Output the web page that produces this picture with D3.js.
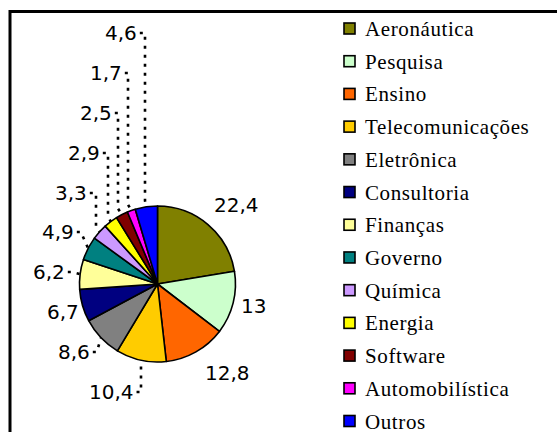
<!DOCTYPE html>
<html>
<head>
<meta charset="utf-8">
<script src="https://cdn.jsdelivr.net/npm/d3@7"></script>
<style>
  html, body { margin: 0; padding: 0; background: #fff; }
  svg { display: block; }
</style>
</head>
<body>
<svg id="chart" width="557" height="432"></svg>
<script>
// ---- Data ----
const categories = ["Aeronáutica", "Pesquisa", "Ensino", "Telecomunicações", "Eletrônica",
  "Consultoria", "Finanças", "Governo", "Química", "Energia", "Software",
  "Automobilística", "Outros"];
const values = [22.4, 13, 12.8, 10.4, 8.6, 6.7, 6.2, 4.9, 3.3, 2.9, 2.5, 1.7, 4.6];
const valueLabels = ["22,4", "13", "12,8", "10,4", "8,6", "6,7", "6,2", "4,9", "3,3", "2,9", "2,5", "1,7", "4,6"];
const colors = ["#808000", "#CCFFCC", "#FF6600", "#FFCC00", "#808080", "#000080",
  "#FFFF99", "#008080", "#CC99FF", "#FFFF00", "#800000", "#FF00FF", "#0000FF"];

// ---- Layout ----
const labelLayout = [
  {x: 214, y: 212, lead: false},
  {x: 241, y: 313, lead: false},
  {x: 205, y: 380, lead: false},
  {x: 89,  y: 399, lead: true, vx: 141},
  {x: 58,  y: 359, lead: true},
  {x: 47,  y: 319, lead: false},
  {x: 33,  y: 279, lead: true},
  {x: 42,  y: 239, lead: true},
  {x: 55,  y: 200, lead: true, vx: 96},
  {x: 68,  y: 160, lead: true, vx: 108},
  {x: 80,  y: 120, lead: true, vx: 118},
  {x: 90,  y: 80,  lead: true, vx: 128},
  {x: 105, y: 40,  lead: true, vx: 145}
];

const valueFont = '"DejaVu Sans", Verdana, Tahoma, sans-serif';
const legendFont = '"Liberation Serif", "Times New Roman", serif';

const cx = 157.5, cy = 284, R = 78;
const svg = d3.select("#chart");

svg.append("rect")
  .attr("x", 10).attr("y", 11.5)
  .attr("width", 700).attr("height", 600)
  .attr("fill", "#fff").attr("stroke", "#000").attr("stroke-width", 3);

const data = categories.map((c, i) => ({cat: c, value: values[i], label: valueLabels[i], color: colors[i], i}));
const pie = d3.pie().value(d => d.value).sort(null);
const arcs = pie(data);
const arc = d3.arc().innerRadius(0).outerRadius(R);
const edgeArc = d3.arc().innerRadius(R).outerRadius(R);

const g = svg.append("g").attr("transform", `translate(${cx},${cy})`);
g.selectAll("path.slice").data(arcs).enter().append("path")
  .attr("class", "slice")
  .attr("d", arc)
  .attr("fill", d => d.data.color)
  .attr("stroke", "#000")
  .attr("stroke-width", 1.6)
  .attr("stroke-linejoin", "round");

const labels = svg.append("g");
arcs.forEach((a, i) => {
  const L = labelLayout[i];
  const t = labels.append("text")
    .attr("x", L.x).attr("y", L.y)
    .style("font-family", valueFont)
    .style("font-size", "20px")
    .attr("fill", "#000")
    .text(a.data.label);
  if (L.lead) {
    const w = t.node().getComputedTextLength();
    const [ex, ey] = edgeArc.centroid(a);
    const px = cx + ex, py = cy + ey;
    const sx = L.x + w + 3, sy = L.y - 7;
    let pts;
    if (L.vx !== undefined) {
      pts = (py > sy)
        ? [[sx, sy], [L.vx, sy], [L.vx, py - 6], [px, py]]
        : [[sx, sy], [L.vx, sy], [L.vx, py + 8], [px, py]];
    } else {
      pts = [[sx, sy], [sx + 4, sy], [px, py]];
    }
    labels.append("path")
      .attr("d", d3.line()(pts))
      .attr("fill", "none")
      .attr("stroke", "#000")
      .attr("stroke-width", 2.6)
      .attr("stroke-dasharray", "3,6");
  }
});

const legend = svg.append("g");
const rowY = d3.scaleLinear().domain([0, categories.length - 1]).range([28.5, 421]);
categories.forEach((c, i) => {
  const y = rowY(i);
  legend.append("rect")
    .attr("x", 344).attr("y", y - 5.5)
    .attr("width", 11).attr("height", 11)
    .attr("fill", colors[i])
    .attr("stroke", "#000").attr("stroke-width", 1.6);
  legend.append("text")
    .attr("x", 365).attr("y", y + 7.5)
    .style("font-family", legendFont)
    .style("font-size", "21px")
    .style("letter-spacing", "0.6px")
    .attr("fill", "#000")
    .text(c);
});
</script>
</body>
</html>
